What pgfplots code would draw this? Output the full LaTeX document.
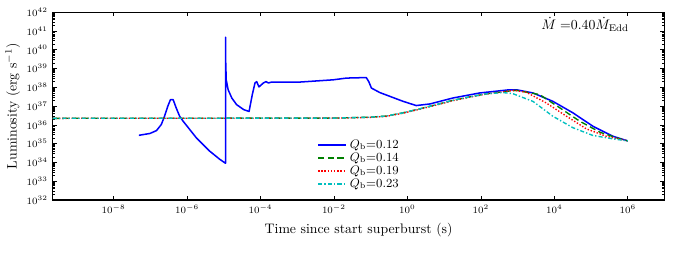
\documentclass[border=0pt]{standalone}
\usepackage{pgfplots}
\pgfplotsset{compat=1.18}
\definecolor{mplgreen}{rgb}{0,0.5,0}
\definecolor{mplcyan}{rgb}{0,0.75,0.75}
\begin{document}
\begin{tikzpicture}
\begin{axis}[
  name=ax, at={(0,0)}, anchor=south west,
  scale only axis, width=444pt, height=136.4pt,
  xmode=log, ymode=log,
  xmin=2.2e-10, xmax=1e7, ymin=1e32, ymax=1e42,
  xtick={1e-8,1e-6,1e-4,1e-2,1,1e2,1e4,1e6},
  ytick={1e32,1e33,1e34,1e35,1e36,1e37,1e38,1e39,1e40,1e41,1e42},
  xminorticks=false,
  tick align=inside,
  major tick length=3pt, minor tick length=1.6pt,
  axis line style={line width=0.9pt},
  every tick/.style={black, line width=0.4pt},
  tick label style={font=\fontsize{7.3}{8}\selectfont},
  label style={font=\fontsize{10}{12}\selectfont},
  xlabel={Time since start superburst (s)},
  ylabel={Luminosity (erg s$^{-1}$)},
  ylabel style={yshift=-2pt},
  legend cell align=left,
  legend style={draw=none, fill=none, at={(rel axis cs:0.43,0.345)}, anchor=north west,
    font=\fontsize{9}{10}\selectfont, row sep=-2.2pt, inner sep=1pt},
  legend image code/.code={\draw[#1] (0cm,0cm) -- (0.72cm,0cm);},
]
\addplot[blue, line width=1.1pt, line join=round] coordinates {
(4.9e-8,2.8e35) (9.8e-8,3.5e35) (1.48e-7,5.0e35) (2.0e-7,1.05e36) (2.45e-7,2.9e36)
(3.0e-7,9.8e36) (3.55e-7,2.2e37) (4.2e-7,2.2e37) (5.1e-7,7.9e36) (6.3e-7,2.9e36)
(7.8e-7,1.6e36) (1.78e-6,2.1e35) (4.1e-6,4.1e34) (7.8e-6,1.48e34) (1.12e-5,9.1e33)
(1.12e-5,4.6e40) (1.135e-5,2e39) (1.17e-5,2.5e38) (1.32e-5,7.4e37) (1.66e-5,2.7e37)
(2.24e-5,1.2e37) (3.5e-5,6.5e36) (4.9e-5,5.2e36) (6.0e-5,4.1e37) (7.1e-5,1.7e38)
(7.9e-5,2.0e38) (9.1e-5,1.05e38) (1.2e-4,1.7e38) (1.41e-4,2.0e38) (1.66e-4,1.7e38)
(2.0e-4,1.9e38) (1.17e-3,1.9e38) (9.5e-3,2.5e38) (2.2e-2,3.1e38)
(7.6e-2,3.3e38) (8.9e-2,2.0e38) (0.105,9.1e37) (0.178,5.25e37) (0.76,1.8e37)
(1.74,1.07e37) (4.1,1.3e37) (17.4,2.7e37) (93,5e37) (600,7.4e37) (1000,7.2e37)
(2630,5e37) (9100,1.8e37) (3.2e4,4.4e36) (1.12e5,8.5e35) (3.9e5,2.5e35) (1e6,1.41e35)
};
\addlegendentry{$Q_{\mathrm{b}}$=0.12}
\addplot[mplgreen, line width=1.0pt, dash pattern=on 4.5pt off 2.5pt] coordinates {
(2.2e-10,2.24e36) (0.01,2.3e36) (0.093,2.57e36) (0.27,2.95e36) (0.76,4.4e36)
(2.14,7.1e36) (6.2,1.2e37) (17.4,2.04e37) (50,3.1e37) (141,4.5e37) (400,5.75e37)
(930,6.9e37) (4000,4.1e37) (1.41e4,8.1e36) (4.9e4,1.58e36) (1.74e5,4.1e35)
(6.0e5,1.82e35) (1e6,1.41e35)
};
\addlegendentry{$Q_{\mathrm{b}}$=0.14}
\addplot[red, line width=1.0pt, dash pattern=on 1pt off 1.3pt] coordinates {
(2.2e-10,2.24e36) (0.01,2.28e36) (0.093,2.5e36) (0.27,2.85e36) (0.76,4.2e36)
(2.14,6.8e36) (6.2,1.15e37) (17.4,1.95e37) (50,3.0e37) (141,4.4e37) (400,5.7e37)
(800,6.9e37) (1740,5.4e37) (6000,1.48e37) (2.14e4,2.9e36) (7.4e4,6.2e35)
(2.57e5,2.5e35) (1e6,1.41e35)
};
\addlegendentry{$Q_{\mathrm{b}}$=0.19}
\addplot[mplcyan, line width=1.0pt, dash pattern=on 3pt off 1.5pt on 1pt off 1.5pt] coordinates {
(2.2e-10,2.24e36) (0.01,2.3e36) (0.093,2.57e36) (0.27,2.95e36) (0.76,4.4e36)
(2.14,7.1e36) (6.2,1.2e37) (17.4,2.04e37) (50,3.1e37) (141,4.5e37) (400,5.25e37)
(740,4.6e37) (2630,1.78e37) (9100,2.9e36) (3.2e4,7.1e35) (1.12e5,2.75e35)
(3.9e5,1.82e35) (1e6,1.41e35)
};
\addlegendentry{$Q_{\mathrm{b}}$=0.23}
\node[anchor=east, font=\fontsize{10}{12}\selectfont] at (rel axis cs:0.95,0.935) {$\dot{M}\;{=}0.40\dot{M}_{\mathrm{Edd}}$};
\end{axis}
\pgfresetboundingbox
\path (ax.south west) ++(-38.2pt,-37.7pt) rectangle ++(494.9pt,182.9pt);
\end{tikzpicture}
\end{document}
